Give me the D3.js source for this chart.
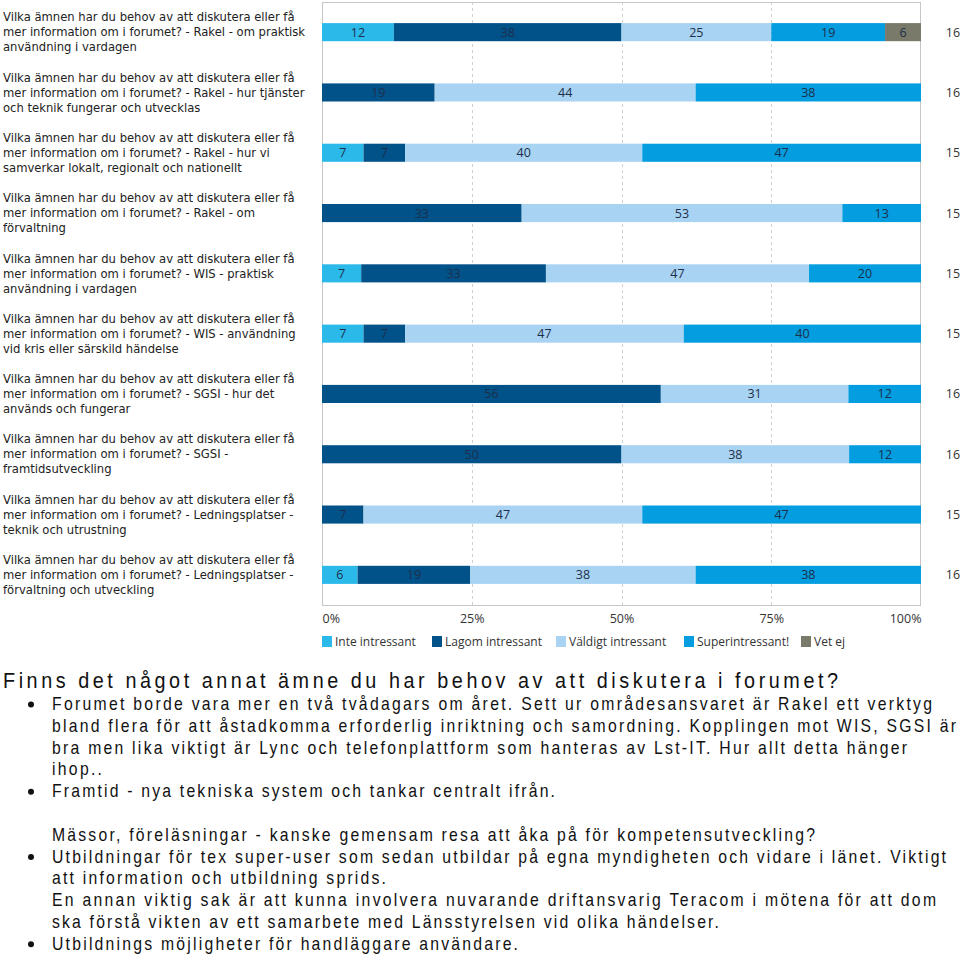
<!DOCTYPE html>
<html>
<head>
<meta charset="utf-8">
<script src="https://cdn.jsdelivr.net/npm/d3@7"></script>
<style>
  html, body { margin: 0; padding: 0; background: #fff; }
  svg { display: block; }
</style>
</head>
<body>
<svg id="chart" width="960" height="956"></svg>
<script>
// ---------- DATA ----------
const questionPrefix = "Vilka ämnen har du behov av att diskutera eller få";
const categories = [
  ["mer information om i forumet? - Rakel - om praktisk", "användning i vardagen"],
  ["mer information om i forumet? - Rakel - hur tjänster", "och teknik fungerar och utvecklas"],
  ["mer information om i forumet? - Rakel - hur vi", "samverkar lokalt, regionalt och nationellt"],
  ["mer information om i forumet? - Rakel - om", "förvaltning"],
  ["mer information om i forumet? - WIS - praktisk", "användning i vardagen"],
  ["mer information om i forumet? - WIS - användning", "vid kris eller särskild händelse"],
  ["mer information om i forumet? - SGSI - hur det", "används och fungerar"],
  ["mer information om i forumet? - SGSI -", "framtidsutveckling"],
  ["mer information om i forumet? - Ledningsplatser -", "teknik och utrustning"],
  ["mer information om i forumet? - Ledningsplatser -", "förvaltning och utveckling"]
];
const seriesNames = ["Inte intressant", "Lagom intressant", "Väldigt intressant", "Superintressant!", "Vet ej"];
const inteIntressant     = [12, 0, 7, 0, 7, 7, 0, 0, 0, 6];
const lagomIntressant    = [38, 19, 7, 33, 33, 7, 56, 50, 7, 19];
const valdigtIntressant  = [25, 44, 40, 53, 47, 47, 31, 38, 47, 38];
const superIntressant    = [19, 38, 47, 13, 20, 40, 12, 12, 47, 38];
const vetEj              = [6, 0, 0, 0, 0, 0, 0, 0, 0, 0];
const respondents        = [16, 16, 15, 15, 15, 15, 16, 16, 15, 16];
const tickValues = [0, 0.25, 0.5, 0.75, 1];
const seriesColors = ["#2bb9ea", "#02528a", "#a9d3f3", "#049ddf", "#7a7a6a"];

const commentTitle = "Finns det något annat ämne du har behov av att diskutera i forumet?";
const commentLines = [
  { t: "Forumet borde vara mer en två tvådagars om året. Sett ur områdesansvaret är Rakel ett verktyg", bullet: true, w: 880 },
  { t: "bland flera för att åstadkomma erforderlig inriktning och samordning. Kopplingen mot WIS, SGSI är", bullet: false, w: 904 },
  { t: "bra men lika viktigt är Lync och telefonplattform som hanteras av Lst-IT. Hur allt detta hänger", bullet: false, w: 855 },
  { t: "ihop..", bullet: false, w: 50 },
  { t: "Framtid - nya tekniska system och tankar centralt ifrån.", bullet: true, w: 503 },
  { t: "", bullet: false, w: 0 },
  { t: "Mässor, föreläsningar - kanske gemensam resa att åka på för kompetensutveckling?", bullet: false, w: 763 },
  { t: "Utbildningar för tex super-user som sedan utbildar på egna myndigheten och vidare i länet. Viktigt", bullet: true, w: 894 },
  { t: "att information och utbildning sprids.", bullet: false, w: 334 },
  { t: "En annan viktig sak är att kunna involvera nuvarande driftansvarig Teracom i mötena för att dom", bullet: false, w: 884 },
  { t: "ska förstå vikten av ett samarbete med Länsstyrelsen vid olika händelser.", bullet: false, w: 667 },
  { t: "Utbildnings möjligheter för handläggare användare.", bullet: true, w: 466 }
];

// ---------- BUILD ----------
const rows = categories.map((c, i) => ({
  idx: i,
  [seriesNames[0]]: inteIntressant[i],
  [seriesNames[1]]: lagomIntressant[i],
  [seriesNames[2]]: valdigtIntressant[i],
  [seriesNames[3]]: superIntressant[i],
  [seriesNames[4]]: vetEj[i]
}));

const svg = d3.select("#chart");
const plot = { left: 322, right: 921, top: 2, bottom: 605 };

const x = d3.scaleLinear().domain([0, 1]).range([plot.left, plot.right]);
const y = d3.scaleBand().domain(d3.range(categories.length))
  .range([plot.top, plot.bottom]).paddingInner(0.7).paddingOuter(0.35);
const color = d3.scaleOrdinal().domain(seriesNames).range(seriesColors);

const stack = d3.stack().keys(seriesNames).offset(d3.stackOffsetExpand);
const series = stack(rows);

// frame
svg.append("rect")
  .attr("x", plot.left + 0.5).attr("y", plot.top + 0.5)
  .attr("width", plot.right - plot.left - 1).attr("height", plot.bottom - plot.top)
  .attr("fill", "none").attr("stroke", "#c6c6c6");

// gridlines
svg.append("g").selectAll("line")
  .data(tickValues.filter(t => t > 0 && t < 1))
  .join("line")
  .attr("x1", d => Math.round(x(d)) + 0.5).attr("x2", d => Math.round(x(d)) + 0.5)
  .attr("y1", plot.top).attr("y2", plot.bottom)
  .attr("stroke", "#d0d0d0").attr("stroke-dasharray", "3,3");

// bars
const gSeries = svg.append("g").selectAll("g")
  .data(series).join("g")
  .attr("fill", d => color(d.key));
gSeries.selectAll("rect")
  .data(d => d.filter(p => p[1] - p[0] > 0))
  .join("rect")
  .attr("x", d => x(d[0]))
  .attr("y", d => y(d.data.idx))
  .attr("width", d => x(d[1]) - x(d[0]))
  .attr("height", y.bandwidth());

// bar value labels
const gLabels = svg.append("g")
  .attr("font-family", "'Open Sans', sans-serif").attr("font-size", 12.5)
  .attr("fill", "#1c2f4a").attr("text-anchor", "middle");
series.forEach(s => {
  s.forEach(p => {
    const v = p.data[s.key];
    if (v > 0) {
      gLabels.append("text")
        .attr("x", (x(p[0]) + x(p[1])) / 2)
        .attr("y", y(p.data.idx) + y.bandwidth() / 2)
        .attr("dy", "0.36em")
        .text(v);
    }
  });
});

// category labels
const gCat = svg.append("g")
  .attr("font-family", "'DejaVu Sans', Verdana, sans-serif").attr("font-size", 11.6)
  .attr("fill", "#222");
categories.forEach((lines, i) => {
  const cy = y(i) + y.bandwidth() / 2;
  const all = [questionPrefix].concat(lines);
  all.forEach((ln, j) => {
    gCat.append("text")
      .attr("x", 3)
      .attr("y", cy + (j - 1) * 15)
      .attr("dy", "0.36em")
      .text(ln);
  });
});

// respondent counts
svg.append("g")
  .attr("font-family", "'Open Sans', sans-serif").attr("font-size", 12.5)
  .attr("fill", "#333").attr("text-anchor", "middle")
  .selectAll("text").data(respondents).join("text")
  .attr("x", 953)
  .attr("y", (d, i) => y(i) + y.bandwidth() / 2)
  .attr("dy", "0.36em")
  .text(d => d);

// x axis
const axis = d3.axisBottom(x).tickValues(tickValues).tickFormat(d3.format(".0%"))
  .tickSize(0).tickPadding(9);
const gAxis = svg.append("g").attr("transform", `translate(0,${plot.bottom})`).call(axis);
gAxis.select(".domain").remove();
gAxis.selectAll("text")
  .attr("font-family", "'Open Sans', sans-serif").attr("font-size", 12.5).attr("fill", "#333")
  .attr("text-anchor", (d, i) => i === 0 ? "start" : (i === tickValues.length - 1 ? "end" : "middle"));

// legend
const legendX = [322, 432, 556, 684, 801];
const gLeg = svg.append("g")
  .attr("font-family", "'Open Sans', sans-serif").attr("font-size", 12).attr("fill", "#333");
seriesNames.forEach((name, i) => {
  gLeg.append("rect").attr("x", legendX[i]).attr("y", 636)
    .attr("width", 10).attr("height", 11).attr("fill", color(name));
  gLeg.append("text").attr("x", legendX[i] + 13).attr("y", 641.5)
    .attr("dy", "0.36em").text(name);
});

// comments (slightly condensed glyphs with letter spacing, like the reference)
const sx = 0.9;
const gCom = svg.append("g")
  .attr("font-family", "'Liberation Sans', Arial, sans-serif").attr("fill", "#111");
const gComText = gCom.append("g").attr("transform", `scale(${sx},1)`);
gComText.append("text").attr("x", 3 / sx).attr("y", 688).attr("font-size", 22)
  .attr("textLength", 835 / sx).attr("lengthAdjust", "spacing")
  .text(commentTitle);
commentLines.forEach((ln, i) => {
  const base = 710 + i * 21.8;
  if (!ln.t) return;
  gComText.append("text").attr("x", 52 / sx).attr("y", base).attr("font-size", 17.5)
    .attr("textLength", ln.w / sx).attr("lengthAdjust", "spacing")
    .text(ln.t);
  if (ln.bullet) {
    gCom.append("circle").attr("cx", 31).attr("cy", base - 5.5).attr("r", 3).attr("fill", "#111");
  }
});
</script>
</body>
</html>
